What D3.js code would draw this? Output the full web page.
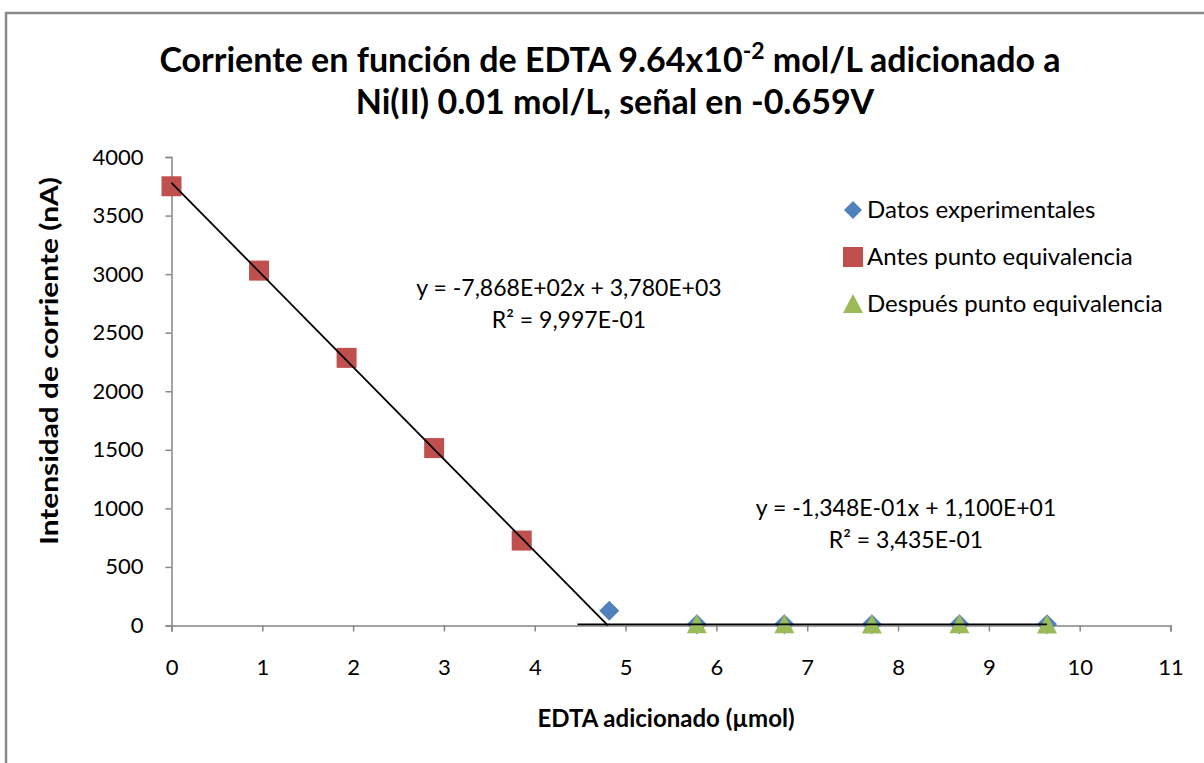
<!DOCTYPE html>
<html><head><meta charset="utf-8">
<script src="https://cdn.jsdelivr.net/npm/d3@7"></script>
<style>body{margin:0;background:#fff}svg{display:block}text{font-family:Lato,"Open Sans",sans-serif}</style>
</head><body><svg id="c" width="1204" height="763"></svg>
<script>
const xAll = [0, 0.964, 1.928, 2.892, 3.856, 4.82, 5.784, 6.748, 7.712, 8.676, 9.64];
const datosY = [3750, 3030, 2285, 1515, 725, 125, 10, 10, 10, 10, 10];
const antesX = [0, 0.964, 1.928, 2.892, 3.856];
const antesY = [3750, 3030, 2285, 1515, 725];
const despuesX = [5.784, 6.748, 7.712, 8.676, 9.64];
const despuesY = [10, 11, 9, 10, 9];
const trend1 = {slope: -786.8, intercept: 3780, from: 0, to: 4.804};
const trend2 = {slope: -0.1348, intercept: 11.0, from: 4.47, to: 9.64};
const xTicks = d3.range(0, 12, 1);
const yTicks = d3.range(0, 4001, 500);
const legendLabels = ["Datos experimentales", "Antes punto equivalencia", "Después punto equivalencia"];
const colors = ["#4F81BD", "#C0504D", "#9BBB59"];
const eq1 = ["y = -7,868E+02x + 3,780E+03", "R² = 9,997E-01"];
const eq2 = ["y = -1,348E-01x + 1,100E+01", "R² = 3,435E-01"];

const svg = d3.select("#c");
svg.append("rect").attr("width",1204).attr("height",763).attr("fill","#fff");
svg.append("path").attr("d","M6,763V13H1204").attr("fill","none").attr("stroke","#8a8a8a").attr("stroke-width",2.5);

const x = d3.scaleLinear().domain([0, 11]).range([171.5, 1170.5]);
const y = d3.scaleLinear().domain([0, 4000]).range([625.5, 157]);

const axisColor = "#868686";
const gx = svg.append("g").attr("transform",`translate(0,${y(0)})`)
  .call(d3.axisBottom(x).tickValues(xTicks).tickSize(6).tickPadding(28).tickFormat(d3.format("d")));
const gy = svg.append("g").attr("transform",`translate(${x(0)},0)`)
  .call(d3.axisLeft(y).tickValues(yTicks).tickSize(6).tickPadding(22).tickFormat(d3.format("d")));
[gx, gy].forEach(g => {
  g.select(".domain").attr("stroke", axisColor).attr("stroke-width", 1.5);
  g.selectAll(".tick line").attr("stroke", axisColor).attr("stroke-width", 1.5);
  g.selectAll(".tick text").attr("fill","#000").style("font-size","22px").style("font-family","Lato");
});

const diamond = s => `M0,${-s}L${s},0L0,${s}L${-s},0Z`;
const square = s => `M${-s},${-s}H${s}V${s}H${-s}Z`;
const tri = s => `M0,${-s}L${s},${s*0.9}H${-s}Z`;

svg.append("g").selectAll("path").data(xAll.map((d,i)=>[d,datosY[i]])).join("path")
  .attr("transform", d=>`translate(${x(d[0])},${y(d[1])})`).attr("d", diamond(10)).attr("fill", colors[0]);
svg.append("g").selectAll("path").data(antesX.map((d,i)=>[d,antesY[i]])).join("path")
  .attr("transform", d=>`translate(${x(d[0])},${y(d[1])})`).attr("d", square(10)).attr("fill", colors[1]);
svg.append("g").selectAll("path").data(despuesX.map((d,i)=>[d,despuesY[i]])).join("path")
  .attr("transform", d=>`translate(${x(d[0])},${y(d[1])})`).attr("d", tri(10)).attr("fill", colors[2]);

[trend1, trend2].forEach(t => {
  svg.append("line")
    .attr("x1", x(t.from)).attr("y1", y(t.slope*t.from + t.intercept))
    .attr("x2", x(t.to)).attr("y2", y(t.slope*t.to + t.intercept))
    .attr("stroke","#000").attr("stroke-width",1.8);
});

function eq(lines, cx, by){
  lines.forEach((l,i)=>svg.append("text").attr("x",cx).attr("y",by+i*32).attr("text-anchor","middle")
    .style("font-size","23px").attr("fill","#000").text(l));
}
eq(eq1, 569, 296);
eq(eq2, 906, 516);

const leg = svg.append("g");
const shapes = [diamond(9), square(10), tri(10)];
legendLabels.forEach((l,i)=>{
  const cy = 210 + i*47;
  leg.append("path").attr("transform",`translate(853,${cy})`).attr("d",shapes[i]).attr("fill",colors[i]);
  leg.append("text").attr("x",867).attr("y",cy+8).style("font-size","24px").attr("fill","#000").text(l);
});

const t1 = svg.append("text").attr("x",610).attr("y",72).attr("text-anchor","middle")
  .style("font-size","34px").style("font-weight","bold").attr("fill","#000");
t1.append("tspan").text("Corriente en función de EDTA 9.64x10");
t1.append("tspan").attr("dy",-13).style("font-size","23px").text("-2");
t1.append("tspan").attr("dy",13).text(" mol/L adicionado a");
svg.append("text").attr("x",615).attr("y",114).attr("text-anchor","middle")
  .style("font-size","34px").style("font-weight","bold").attr("fill","#000").text("Ni(II) 0.01 mol/L, señal en -0.659V");

svg.append("text").attr("x",666).attr("y",727).attr("text-anchor","middle")
  .style("font-size","24px").style("font-weight","bold").attr("fill","#000").text("EDTA adicionado (µmol)");
svg.append("text").attr("transform","translate(58,361) rotate(-90)").attr("text-anchor","middle")
  .attr("textLength",368).attr("lengthAdjust","spacingAndGlyphs")
  .style("font-size","25px").style("font-weight","bold").attr("fill","#000").text("Intensidad de corriente (nA)");
</script></body></html>
